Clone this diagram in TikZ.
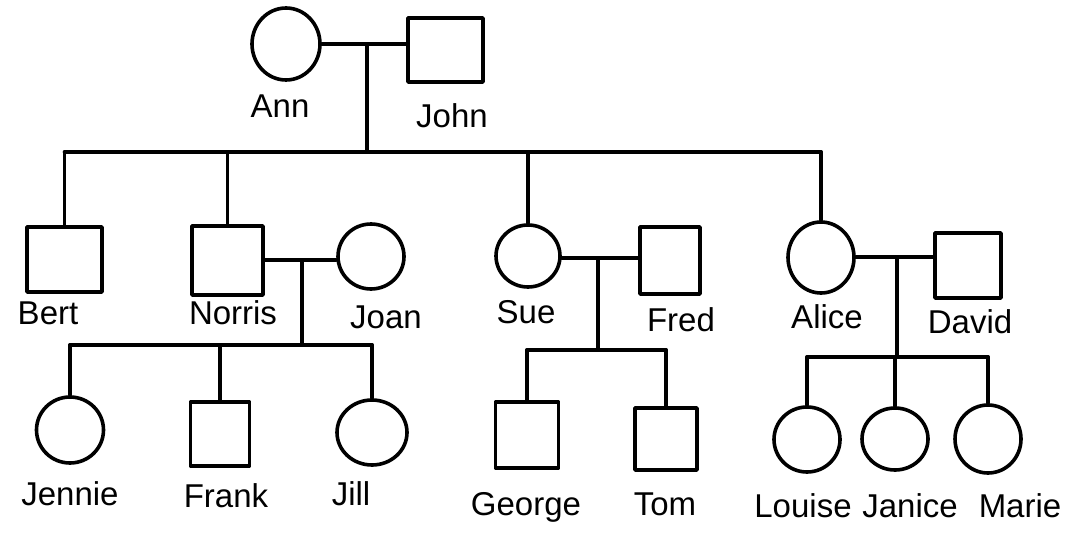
\documentclass[tikz,border=0pt]{standalone}
\usepackage{fontspec}
\setmainfont{Liberation Sans}
\usetikzlibrary{shapes.geometric}
\begin{document}
\begin{tikzpicture}[x=1pt,y=-1pt,
  line width=3.6pt, line cap=round, line join=round,
  fem/.style 2 args={draw, ellipse, minimum width=#1, minimum height=#2, inner sep=0pt},
  mal/.style 2 args={draw, rectangle, minimum width=#1, minimum height=#2, inner sep=0pt},
  lbl/.style={inner sep=0pt, font=\fontsize{33}{38}\selectfont}]
\useasboundingbox (0,0) rectangle (1083,535);
% generation 1
\node[fem={68pt}{72pt}] (ann) at (286,44) {};
\node[mal={75pt}{64pt}] (john) at (445.5,50) {};
\node[lbl] (annl) at (280,106) {Ann};
\node[lbl] (johnl) at (452,116) {John};
% generation 2
\node[mal={75pt}{65pt}] (bert) at (64.5,259.5) {};
\node[mal={71pt}{69pt}] (norris) at (227.5,260.5) {};
\node[fem={66pt}{65pt}] (joan) at (371,256.5) {};
\node[fem={64pt}{62pt}] (sue) at (528,256) {};
\node[mal={60pt}{67pt}] (fred) at (670,260.5) {};
\node[fem={66pt}{71pt}] (alice) at (821,257.5) {};
\node[mal={66pt}{65pt}] (david) at (968,265.5) {};
\node[lbl] (bertl) at (48,313) {Bert};
\node[lbl] (norrisl) at (233,313) {Norris};
\node[lbl] (joanl) at (386,317) {Joan};
\node[lbl] (suel) at (526,312) {Sue};
\node[lbl] (fredl) at (681,320) {Fred};
\node[lbl] (alicel) at (827,317) {Alice};
\node[lbl] (davidl) at (970,322) {David};
% generation 3
\node[fem={67pt}{66pt}] (jennie) at (70,430) {};
\node[mal={59pt}{64pt}] (frank) at (220,434) {};
\node[fem={70pt}{65pt}] (jill) at (372,432.5) {};
\node[mal={63pt}{66pt}] (george) at (527,435) {};
\node[mal={62pt}{62pt}] (tom) at (666,439) {};
\node[fem={66pt}{65pt}] (louise) at (807,439.5) {};
\node[fem={66pt}{62pt}] (janice) at (895,439) {};
\node[fem={66pt}{68pt}] (marie) at (988,439) {};
\node[lbl] (jenniel) at (70,494) {Jennie};
\node[lbl] (frankl) at (226,496) {Frank};
\node[lbl] (jilll) at (351,494) {Jill};
\node[lbl] (georgel) at (526,507) {George};
\node[lbl] (toml) at (665,504) {Tom};
\node[lbl] (louisel) at (803,506) {Louise};
\node[lbl] (janicel) at (910,506) {Janice};
\node[lbl] (mariel) at (1020,506) {Marie};
% couples and descent
\coordinate (m1) at (367,44);
\coordinate (s1) at (367,152);
\draw (ann.east) -- (ann.east -| john.west);
\draw (m1) -- (s1);
\draw (bert.north |- s1) -- (alice.north |- s1);
\foreach \c in {bert,norris,sue,alice} \draw (\c.north |- s1) -- (\c.north);
\coordinate (m2) at (302,260);
\coordinate (s2) at (302,345);
\draw (norris.east |- m2) -- (joan.west |- m2);
\draw (m2) -- (s2);
\draw (jennie.north |- s2) -- (jill.north |- s2);
\foreach \c in {jennie,frank,jill} \draw (\c.north |- s2) -- (\c.north);
\coordinate (m3) at (598,258);
\coordinate (s3) at (598,350);
\draw (sue.east |- m3) -- (fred.west |- m3);
\draw (m3) -- (s3);
\draw (george.north |- s3) -- (tom.north |- s3);
\foreach \c in {george,tom} \draw (\c.north |- s3) -- (\c.north);
\coordinate (m4) at (897,257);
\coordinate (s4) at (897,357);
\draw (alice.east |- m4) -- (david.west |- m4);
\draw (m4) -- (s4);
\draw (louise.north |- s4) -- (marie.north |- s4);
\foreach \c in {louise,janice,marie} \draw (\c.north |- s4) -- (\c.north);
\end{tikzpicture}
\end{document}
